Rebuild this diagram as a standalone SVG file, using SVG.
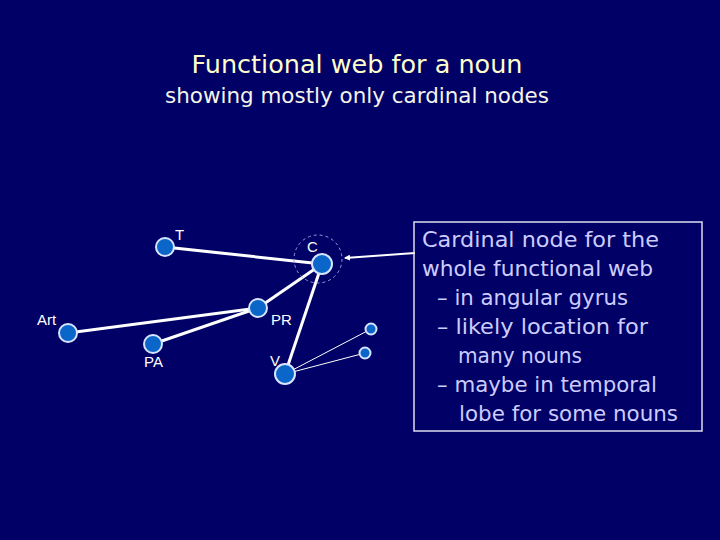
<svg xmlns="http://www.w3.org/2000/svg" width="720" height="540" viewBox="0 0 720 540">
<defs>
<style>
.comic{font-family:"Comic Sans MS","DejaVu Sans","Liberation Sans",sans-serif;}
.title{fill:#ffffcc;font-size:24px;}
.sub{fill:#f4f4e8;font-size:21px;}
.box{fill:#ccccff;font-size:21px;}
.lbl{font-family:"Liberation Sans",Arial,sans-serif;font-size:15px;fill:#ffffff;}
.node{fill:#0a66c8;stroke:#d8e4ff;stroke-width:2;}
.thick{stroke:#ffffff;stroke-width:3;fill:none;}
.thin{stroke:#ffffff;stroke-width:1;fill:none;}
</style>
<marker id="ah" markerWidth="6" markerHeight="6" refX="5" refY="3" orient="auto" markerUnits="userSpaceOnUse">
<path d="M0,0 L6,3 L0,6 z" fill="#ffffff"/>
</marker>
</defs>
<rect width="720" height="540" fill="#000066"/>
<g id="title">
<text class="comic title" x="357" y="73" text-anchor="middle" textLength="331" lengthAdjust="spacingAndGlyphs">Functional web for a noun</text>
<text class="comic sub" x="357" y="103" text-anchor="middle" textLength="384" lengthAdjust="spacingAndGlyphs">showing mostly only cardinal nodes</text>
</g>
<g id="connectors">
<line class="thick" x1="165" y1="247" x2="322" y2="264"/>
<line class="thick" x1="322" y1="264" x2="258" y2="308"/>
<line class="thick" x1="322" y1="264" x2="285" y2="374"/>
<line class="thick" x1="258" y1="308" x2="68" y2="333"/>
<line class="thick" x1="258" y1="308" x2="153" y2="344"/>
<line class="thin" x1="285" y1="374" x2="371" y2="329"/>
<line class="thin" x1="285" y1="374" x2="365" y2="353"/>
<line stroke="#ffffff" stroke-width="2" x1="415" y1="253" x2="345" y2="258" marker-end="url(#ah)"/>
</g>
<g id="C-halo">
<circle cx="318" cy="259" r="24" fill="none" stroke="#9999dd" stroke-width="1" stroke-dasharray="3,3"/>
</g>
<g id="node-T"><circle class="node" cx="165" cy="247" r="9"/><text class="lbl" x="175" y="240">T</text></g>
<g id="node-C"><circle class="node" cx="322" cy="264" r="10"/><text class="lbl" x="307" y="252">C</text></g>
<g id="node-PR"><circle class="node" cx="258" cy="308" r="9"/><text class="lbl" x="271" y="325">PR</text></g>
<g id="node-Art"><circle class="node" cx="68" cy="333" r="9"/><text class="lbl" x="37" y="325">Art</text></g>
<g id="node-PA"><circle class="node" cx="153" cy="344" r="9"/><text class="lbl" x="144" y="367">PA</text></g>
<g id="node-V"><circle class="node" cx="285" cy="374" r="10"/><text class="lbl" x="270" y="366">V</text></g>
<g id="node-s1"><circle class="node" cx="371" cy="329" r="5.5"/></g>
<g id="node-s2"><circle class="node" cx="365" cy="353" r="5.5"/></g>
<g id="note">
<rect x="414" y="222" width="288" height="209" fill="none" stroke="#ddddee" stroke-width="1.5"/>
<text class="comic box" x="422" y="247" textLength="237" lengthAdjust="spacingAndGlyphs">Cardinal node for the</text>
<text class="comic box" x="422" y="276" textLength="231" lengthAdjust="spacingAndGlyphs">whole functional web</text>
<text class="comic box" x="437" y="305" textLength="191" lengthAdjust="spacingAndGlyphs">– in angular gyrus</text>
<text class="comic box" x="437" y="334" textLength="211" lengthAdjust="spacingAndGlyphs">– likely location for</text>
<text class="comic box" x="458" y="363" textLength="124" lengthAdjust="spacingAndGlyphs">many nouns</text>
<text class="comic box" x="437" y="392" textLength="220" lengthAdjust="spacingAndGlyphs">– maybe in temporal</text>
<text class="comic box" x="459" y="421" textLength="219" lengthAdjust="spacingAndGlyphs">lobe for some nouns</text>
</g>
</svg>
